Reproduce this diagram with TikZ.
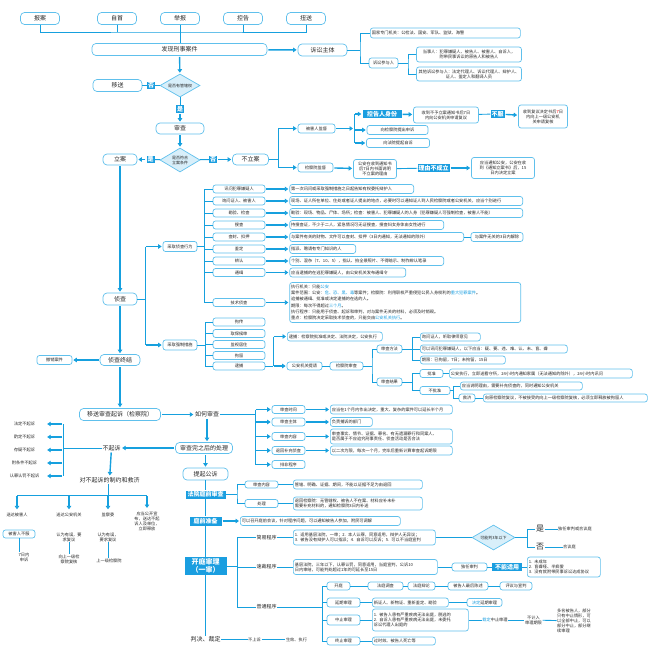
\documentclass[tikz,border=0pt]{standalone}
\usepackage{fontspec}
\usepackage{xcolor}
\newfontfamily\cjk{Noto Sans CJK SC}
\usetikzlibrary{arrows.meta,shapes.geometric,calc}
\definecolor{bline}{RGB}{96,192,236}
\definecolor{aline}{RGB}{22,160,222}
\definecolor{hblue}{RGB}{26,158,224}
\definecolor{dfill}{RGB}{216,239,250}
\tikzset{
  box/.style={draw=bline,line width=0.7pt,rounded corners=2.5pt,fill=white,inner sep=1pt,
    text=black!85,font=\cjk\fontsize{4.2}{5}\selectfont,minimum height=8pt},
  bigbox/.style={box,rounded corners=4pt,font=\cjk\fontsize{6}{7}\selectfont,minimum height=12pt},
  desc/.style={box,anchor=west,align=left,inner xsep=1.5pt},
  hl/.style={fill=hblue,text=white,inner sep=1pt,font=\cjk\bfseries\fontsize{6}{7}\selectfont},
  txt/.style={inner sep=0.5pt,text=black!85,font=\cjk\fontsize{4.2}{5}\selectfont,align=center},
  dia/.style={diamond,aspect=1.7,draw=bline,fill=dfill,line width=0.7pt,inner sep=0pt,
    text=black!85,font=\cjk\fontsize{4}{5}\selectfont,align=center},
  ln/.style={draw=aline,line width=0.9pt},
  arr/.style={draw=aline,line width=1.4pt,-{Triangle[length=3.5pt,width=4.5pt]},shorten <=1pt,shorten >=1pt}
}
\begin{document}
\begin{tikzpicture}[x=1pt,y=-1pt]
\useasboundingbox (0,0) rectangle (650,650);

\node[bigbox,minimum width=39] (baoan) at (40,18.5) {报案};
\node[bigbox,minimum width=39] (zishou) at (117,18.5) {自首};
\node[bigbox,minimum width=39] (jubao) at (180,18.5) {举报};
\node[bigbox,minimum width=39] (konggao) at (243,18.5) {控告};
\node[bigbox,minimum width=39] (niusong) at (306,18.5) {扭送};
\node[bigbox,minimum width=175] (faxian) at (179.5,49.5) {发现刑事案件};
\coordinate (top) at (180,32);
\draw[ln] (baoan.south) |- (top) -| (niusong.south);
\draw[ln] (zishou.south) -- (zishou.south |- top);
\draw[ln] (konggao.south) -- (konggao.south |- top);
\draw[ln] (jubao.south) -- (jubao.south |- faxian.north);

\node[bigbox,minimum width=49] (susong) at (322.5,50) {诉讼主体};
\draw[arr] (faxian) -- (susong);
\node[desc,text width=147pt,minimum height=10] (guojia) at (370,33) {国家专门机关：公检法、国安、军队、监狱、海警};
\node[box,minimum width=29,minimum height=10] (canyu) at (383.5,63) {诉讼参与人};
\node[box,text width=103pt,align=center,minimum height=15] (dangshi) at (469,54.5) {当事人：犯罪嫌疑人、被告人、被害人、自诉人，\\附带民事诉讼的原告人和被告人};
\node[box,text width=103pt,align=center,minimum height=14] (qita) at (469,74) {其他诉讼参与人：法定代理人、诉讼代理人、辩护人、\\证人、鉴定人和翻译人员};
\coordinate (sj) at (360,50);
\draw[ln] (susong) -- (sj);
\draw[ln] (guojia.west) -| (sj) |- (canyu.west);
\coordinate (pj1) at (408,63);
\draw[ln] (canyu) -- (pj1);
\draw[ln] (dangshi.west) -| (pj1) |- (qita.west);

\node[dia,minimum width=40,minimum height=23] (guanxia) at (180,85.5) {是否有管辖权};
\draw[arr] (faxian) -- (guanxia);
\node[hl] (fou1) at (151,85.5) {否};
\node[bigbox,minimum width=49] (yisong) at (117.5,85.5) {移送};
\draw[ln] (guanxia) -- (fou1);
\draw[ln] (fou1) -- (yisong);
\node[hl] (shi1) at (180,109) {是};
\draw[ln] (guanxia) -- (shi1);
\node[bigbox,minimum width=48,minimum height=11] (shencha) at (180,128.5) {审查};
\draw[arr] (shi1) -- (shencha);
\node[dia,minimum width=40,minimum height=24] (tiaojian) at (180,160) {是否符合\\立案条件};
\draw[arr] (shencha) -- (tiaojian);
\node[hl] (shi2) at (150.5,159.5) {是};
\node[bigbox,minimum width=34,minimum height=11] (lian) at (120,159.5) {立案};
\draw[ln] (tiaojian) -- (shi2);
\draw[arr] (shi2) -- (lian);
\node[hl] (fou2) at (213,159.5) {否};
\node[bigbox,minimum width=36,minimum height=11] (buli) at (250.5,159.5) {不立案};
\draw[ln] (tiaojian) -- (fou2);
\draw[arr] (fou2) -- (buli);

\coordinate (bj) at (278,159.5);
\draw[ln] (buli) -- (bj);
\node[box,minimum width=37,minimum height=9] (beihai) at (316.5,128.5) {被害人监督};
\node[box,minimum width=35,minimum height=9] (jianjian) at (315.5,167.5) {检察院监督};
\draw[ln] (beihai -| bj) -- (jianjian -| bj);
\draw[arr] (beihai -| bj) -- (beihai);
\draw[arr] (jianjian -| bj) -- (jianjian);

\coordinate (bh) at (354,128.5);
\draw[arr] (beihai) -- (bh);
\node[hl,minimum width=39,minimum height=8] (kgsf) at (382,114) {控告人身份};
\node[box,minimum width=61,minimum height=9] (sssu) at (397.5,130) {向检察院提出申诉};
\node[box,minimum width=63,minimum height=9] (zisu) at (398,143) {向法院提起自诉};
\draw[ln] (kgsf -| bh) -- (zisu -| bh);
\draw[arr] (kgsf -| bh) -- (kgsf);
\draw[arr] (sssu -| bh) -- (sssu);
\draw[arr] (zisu -| bh) -- (zisu);
\node[box,text width=63pt,align=center,minimum height=16] (fuyi) at (446,115) {收到不予立案通知书后7日\\内向公安机关申请复议};
\draw[arr] (kgsf) -- (fuyi);
\node[hl] (bufu) at (497.5,114) {不服};
\draw[ln] (fuyi) -- (bufu);
\node[box,text width=47pt,align=center,minimum height=23] (fuhe) at (543,116.5) {收到复议决定书后\textcolor{red}{7}日\\内向上一级公安机\\关申请复核};
\draw[arr] (bufu) -- (fuhe);

\node[box,text width=41pt,align=center,minimum height=19] (shuoming) at (375,169) {公安在收到通知书\\后7日内书面说明\\不立案的理由};
\draw[arr] (jianjian) -- (shuoming);
\node[hl] (bucheng) at (433.5,168) {理由不成立};
\draw[ln] (shuoming) -- (bucheng);
\node[box,text width=61pt,align=center,minimum height=21] (tongzhi) at (503,168) {应当通知公安，公安在收\\到《通知立案书》后，15\\日内决定立案};
\draw[arr] (bucheng) -- (tongzhi);

\node[bigbox,minimum width=34] (zhencha) at (120,299) {侦查};
\draw[arr] (lian) -- (zhencha);
\coordinate (zj) at (145,299);
\draw[ln] (zhencha) -- (zj);
\node[box,minimum width=34,minimum height=10] (xingwei) at (180,246.5) {采取侦查行为};
\node[box,minimum width=34,minimum height=10] (cuoshi) at (180,345) {采取强制措施};
\draw[ln] (xingwei -| zj) -- (cuoshi -| zj);
\draw[arr] (xingwei -| zj) -- (xingwei);
\draw[arr] (cuoshi -| zj) -- (cuoshi);

\coordinate (xj) at (204,246.5);
\draw[ln] (xingwei) -- (xj);
\foreach \i/\y/\t in {1/189/讯问犯罪嫌疑人,2/201/询问证人、被害人,3/213/勘验、检查,4/225/搜查,5/237/查封、扣押,6/249/鉴定,7/261/辨认,8/272.5/通缉,9/302.5/技术侦查}{
  \node[box,minimum width=52,minimum height=8] (xw\i) at (239,\y) {\t};
  \draw[ln] (xw\i.west -| xj) -- (xw\i);
}
\draw[ln] (xw1.west -| xj) -- (xw9.west -| xj);
\foreach \i/\w/\t in {1/121/{第一次讯问或采取强制措施之日起告知有权委托辩护人},
  2/230/{现场、证人所在单位、住处或者证人提出的地点，必要时可以通知证人到人民检察院或者公安机关，应当个别进行},
  3/230/{勘验：现场、物品、尸体、场所；检查：被害人、犯罪嫌疑人的人身（犯罪嫌疑人可强制检查，被害人不能）},
  4/151/{持搜查证，不少于二人，紧急情况可无证搜查，搜查妇女身体由女性进行},
  5/171/{与案件有关的财物、文件可以查封、扣押（3日内通知，无法通知的除外）},
  6/63/{指派、聘请有专门知识的人},
  7/151/{个别、混杂（7、10、5），指认、拍全景照片、不得暗示、制作辨认笔录},
  8/113/{应当逮捕的在逃犯罪嫌疑人，由公安机关发布通缉令}}{
  \node[desc,text width=\w pt,minimum height=9] (xd\i) at ([xshift=24pt]xw\i.east) {\t};
  \draw[arr] (xw\i) -- (xd\i);
}
\node[box,minimum width=52,minimum height=9] (jiechu) at (497,237) {与案件无关的3日内解除};
\draw[ln] (xd5) -- (jiechu);
\node[desc,text width=228pt,minimum height=40,font=\cjk\fontsize{4.2}{6.2}\selectfont] (xd9) at ([xshift=24pt]xw9.east) {执行机关：只能\textcolor{hblue}{公安}\\案件范围：公安：\textcolor{hblue}{危、恐、黑、毒}等案件；检察院：利用职权严重侵犯公民人身权利的\textcolor{hblue}{重大犯罪案件}。\\追捕被通缉、批准或决定逮捕的在逃的人。\\期限：每次不得超过\textcolor{hblue}{三个月}。\\执行程序：只能用于侦查、起诉和审判，对与案件无关的材料，必须及时销毁。\\重点：检察院决定采取技术侦查的，只能交由\textcolor{hblue}{公安机关执行}。};
\draw[arr] (xw9) -- (xd9);

\coordinate (cj) at (205,345);
\draw[ln] (cuoshi) -- (cj);
\foreach \i/\y/\t in {1/322/拘传,2/333.5/取保候审,3/344.5/监视居住,4/355.5/拘留,5/366/逮捕}{
  \node[box,minimum width=52,minimum height=8] (qz\i) at (239,\y) {\t};
  \draw[ln] (qz\i.west -| cj) -- (qz\i);
}
\draw[ln] (qz1.west -| cj) -- (qz5.west -| cj);

\coordinate (dj) at (273,366);
\draw[ln] (qz5) -- (dj);
\node[desc,text width=92pt,minimum height=9] (jueding) at (287,336.5) {逮捕：检察院批准或决定、法院决定，公安执行};
\node[box,minimum width=35,minimum height=8] (tiqing) at (304.5,366) {公安机关提请};
\draw[ln] (jueding -| dj) -- (dj);
\draw[arr] (jueding -| dj) -- (jueding);
\draw[arr] (dj) -- (tiqing);
\node[box,minimum width=33,minimum height=8] (shenzha) at (346.5,366) {检察院审查};
\draw[ln] (tiqing) -- (shenzha);
\coordinate (sj3) at (372,366);
\draw[ln] (shenzha) -- (sj3);
\node[box,minimum width=25,minimum height=8] (fangfa) at (389.5,349) {审查方法};
\node[box,minimum width=25,minimum height=8] (jieguo) at (389.5,382) {审查结果};
\draw[ln] (fangfa.west) -| (sj3) |- (jieguo.west);

\coordinate (fj) at (412,349);
\draw[ln] (fangfa) -- (fj);
\node[desc,text width=57pt,minimum height=8] (ff1) at (420,337) {询问证人，听取律师意见};
\node[desc,text width=144pt,minimum height=8] (ff2) at (420,349) {可以讯问犯罪嫌疑人，以下应当：疑、要、违、难、认、未、盲、聋};
\node[desc,text width=82pt,minimum height=8] (ff3) at (420,360) {期限：已拘留，7日；未拘留，15日};
\draw[ln] (ff1.west -| fj) -- (ff3.west -| fj);
\foreach \n in {ff1,ff2,ff3} \draw[ln] (\n.west -| fj) -- (\n);

\coordinate (gj) at (412,382);
\draw[ln] (jieguo) -- (gj);
\node[box,minimum width=23,minimum height=8] (pizhun) at (431.5,373.5) {批准};
\node[box,minimum width=30,minimum height=8] (bupi) at (435,390.5) {不批准};
\draw[ln] (pizhun.west -| gj) -- (bupi.west -| gj);
\draw[ln] (pizhun.west -| gj) -- (pizhun);
\draw[ln] (bupi.west -| gj) -- (bupi);
\node[desc,text width=180pt,minimum height=9] (pzd) at (449,373.5) {公安执行，立即送看守所，24小时内通知家属（无法通知的除外），24小时内讯问};
\draw[ln] (pizhun) -- (pzd);
\coordinate (bj2) at (453,390.5);
\draw[ln] (bupi) -- (bj2);
\node[desc,text width=119pt,minimum height=8] (bp1) at (460,386) {应当说明理由，需要补充侦查的，同时通知公安机关};
\node[box,minimum width=16,minimum height=8] (jiuji) at (467,398) {救济};
\draw[ln] (bp1.west -| bj2) -- (jiuji.west -| bj2);
\draw[ln] (bp1.west -| bj2) -- (bp1);
\draw[ln] (jiuji.west -| bj2) -- (jiuji);
\node[desc,text width=161pt,minimum height=8] (jjd) at (483,398) {向原检察院复议，不被接受的向上一级检察院复核，必须立即释放被拘留人};
\draw[ln] (jiuji) -- (jjd);

\node[bigbox,minimum width=40,minimum height=11] (zhongjie) at (120,360) {侦查终结};
\draw[arr] (zhencha) -- (zhongjie);
\node[box,minimum width=35,minimum height=9] (chexiao) at (54.5,360) {撤销案件};
\draw[arr] (zhongjie) -- (chexiao);
\node[bigbox,minimum width=81,minimum height=12] (yisongqs) at (120,414.5) {移送审查起诉（检察院）};
\draw[arr] (zhongjie) -- (yisongqs);
\node[txt,font=\cjk\fontsize{6}{7}\selectfont] (ruhe) at (207,414.5) {如何审查};
\draw[arr] (yisongqs) -- (ruhe);
\coordinate (rj) at (255,414.5);
\draw[ln] (ruhe) -- (rj);
\foreach \i/\y/\t in {1/409.5/审查时间,2/422/审查主体,3/436.5/审查内容,4/450.5/退回补充侦查,5/464.5/排非程序}{
  \node[box,minimum width=33,minimum height=8] (sc\i) at (288.5,\y) {\t};
  \draw[arr] (sc\i.west -| rj) -- (sc\i);
}
\draw[ln] (sc1.west -| rj) -- (sc5.west -| rj);
\node[desc,text width=119pt,minimum height=9] (scd1) at (330,409.5) {应当在1个月内作出决定，重大、复杂的案件可以延长半个月};
\node[desc,text width=39pt,minimum height=9] (scd2) at (330,422) {负责捕诉的部门};
\node[desc,text width=119pt,minimum height=15] (scd3) at (330,436.5) {审查事实、情节、证据、罪名、有无遗漏罪行和同案人、\\是否属于不应追究刑事责任、侦查活动是否合法};
\node[desc,text width=119pt,minimum height=9] (scd4) at (330,450.5) {以二次为限，每次一个月，完毕后重新计算审查起诉期限};
\foreach \i in {1,...,4} \draw[arr] (sc\i) -- (scd\i);

\node[bigbox,minimum width=57,minimum height=11] (chuli) at (204,448) {审查完之后的处理};
\draw[arr] (ruhe) -- (ruhe |- chuli.north);
\node[txt,font=\cjk\fontsize{6}{7}\selectfont] (buqisu) at (111.5,448) {不起诉};
\draw[arr] (chuli) -- (buqisu);
\coordinate (qj) at (63,448);
\draw[ln] (buqisu) -- (qj);
\foreach \i/\y/\t in {1/424/法定不起诉,2/437/酌定不起诉,3/450/存疑不起诉,4/463/附条件不起诉,5/476/认罪认罚不起诉}{
  \node[txt,minimum width=31] (bq\i) at (24.5,\y) {\t};
  \draw[arr,shorten >=7pt] (bq\i -| qj) -- (bq\i);
}
\draw[ln] (bq1 -| qj) -- (bq5 -| qj);

\node[txt,font=\cjk\fontsize{6}{7}\selectfont] (zhiyue) at (109.5,480) {对不起诉的制约和救济};
\draw[arr] (buqisu) -- (zhiyue);
\coordinate (yj) at (108,495);
\draw[ln] (yj |- zhiyue.south) -- (yj);
\node[txt] (sd1) at (17,515) {送达被害人};
\node[txt] (sd2) at (69,515) {送达公安机关};
\node[txt] (sd3) at (108,515) {监察委};
\node[txt,anchor=north] (sd4) at (147,511) {应当公开宣\\布，送达不起\\诉人及单位，\\立即释放};
\draw[ln] (sd1 |- yj) -- (sd4 |- yj);
\foreach \n in {sd1,sd2,sd3,sd4} \draw[arr,shorten >=3pt] (\n |- yj) -- (\n.north);
\node[box,minimum width=32,minimum height=8] (bhbf) at (19,534) {被害人不服};
\node[txt] (ss1) at (24,557) {7日内\\申诉};
\draw[ln] (bhbf.south) -- (bhbf.south |- ss1.north);
\node[txt] (yw2) at (69,537) {认为有误，要\\求复议};
\node[txt] (fh2) at (69,559) {向上一级检\\察院复核};
\draw[ln] (yw2) -- (fh2);
\node[txt] (yw3) at (108,537) {认为有误，\\要求复议};
\node[txt] (fh3) at (109,561) {上一级检察院};
\draw[ln] (yw3) -- (yw3 |- fh3.north);

\node[bigbox,minimum width=45,minimum height=12] (gongsu) at (205.5,474) {提起公诉};
\draw[arr] (gongsu |- chuli.south) -- (gongsu);
\node[hl,minimum width=40,minimum height=8] (tingqian) at (205.5,494.5) {法院庭前审查};
\node[hl,minimum width=32,minimum height=9] (zhunbei) at (205.5,521) {庭前准备};
\node[hl,minimum width=42,minimum height=18,align=center,font=\cjk\bfseries\fontsize{7}{8.5}\selectfont] (kaiting) at (205.5,566) {开庭审理\\（一审）};
\node[txt,font=\cjk\fontsize{6}{7}\selectfont] (panjue) at (205.5,639.5) {判决、裁定};
\draw[ln] (gongsu) -- (tingqian) -- (zhunbei) -- (kaiting) -- (panjue);
\node[txt] (bss) at (254.5,639.5) {不上诉};
\node[txt] (sx) at (296.5,639.5) {生效、执行};
\draw[ln] (panjue) -- (bss);
\draw[ln] (bss) -- (sx);

\coordinate (tj) at (237,494.5);
\draw[ln] (tingqian) -- (tj);
\node[box,minimum width=33,minimum height=7] (scnr) at (261.5,484.5) {审查内容};
\node[box,minimum width=33,minimum height=8] (chuli2) at (261.5,503.5) {处理};
\draw[ln] (scnr.west) -| (tj) |- (chuli2.west);
\node[desc,text width=126pt,minimum height=9] (scnrd) at (293,484.5) {管辖、明确、证据、期间，不能以证据不足为由退回};
\node[desc,text width=126pt,minimum height=13] (chulid) at (293,503.5) {退回检察院：无管辖权、被告人不在案、材料应补未补\\需要补充材料的，通知检察院3日内补送};
\draw[ln] (scnr) -- (scnrd);
\draw[ln] (chuli2) -- (chulid);
\node[desc,text width=157pt,minimum height=9] (zhunbeid) at (240,521) {可以召开庭前会议，针对程序问题，可以通知被告人参加，附民可调解};
\draw[arr] (zhunbei) -- (zhunbeid);

\coordinate (kj) at (237,566);
\draw[ln] (kaiting) -- (kj);
\node[txt,font=\cjk\fontsize{5}{6}\selectfont] (jianyi) at (266.5,537.5) {简易程序};
\node[txt,font=\cjk\fontsize{5}{6}\selectfont] (sucai) at (266.5,567) {速裁程序};
\node[txt,font=\cjk\fontsize{5}{6}\selectfont] (putong) at (266.5,607) {普通程序};
\draw[ln] (jianyi.west -| kj) -- (putong.west -| kj);
\foreach \n in {jianyi,sucai,putong} \draw[ln] (\n.west -| kj) -- (\n);

\node[desc,text width=139pt,minimum height=15] (jianyid) at (293,537.5) {1. 适用基层法院，一审；2. 本人认罪，同意适用，辩护人无异议；\\3. 被告没有辩护人可以指派；4. 自诉可以反诉；5. 可以不当庭宣判};
\draw[ln] (jianyi) -- (jianyid);
\node[dia,minimum width=43,minimum height=25] (sannian) at (493.5,537.5) {可能判3年以下};
\draw[ln] (jianyid) -- (sannian);
\coordinate (nj) at (527,537.5);
\draw[ln] (sannian) -- (nj);
\node[txt,font=\cjk\fontsize{8}{9}\selectfont] (shi3) at (540,529) {是};
\node[txt,font=\cjk\fontsize{8}{9}\selectfont] (fou3) at (540,547) {否};
\draw[ln] (shi3.west -| nj) -- (fou3.west -| nj);
\draw[ln] (shi3.west -| nj) -- (shi3);
\draw[ln] (fou3.west -| nj) -- (fou3);
\node[txt] (duren) at (575,529) {独任审判或合议庭};
\node[txt] (heyi) at (569.5,547) {合议庭};
\draw[ln] (shi3) -- (duren);
\draw[ln] (fou3) -- (heyi);

\node[desc,text width=141pt,minimum height=15] (sucaid) at (293,567) {基层法院，三年以下，认罪认罚，同意适用，当庭宣判，公诉10\\日内审结，可能判处超过1年的可延长至15日};
\draw[ln] (sucai) -- (sucaid);
\node[box,minimum width=35,minimum height=8] (duren2) at (469.5,567) {独任审判};
\draw[ln] (sucaid) -- (duren2);
\node[hl,minimum width=30,minimum height=8] (bnsy) at (507,567) {不能适用};
\draw[ln] (duren2) -- (bnsy);
\node[desc,text width=70pt,minimum height=20] (bnsyd) at (527,567) {1. 未成年\\2. 盲聋哑、半疯傻\\3. 没有就附带民事诉讼达成协议};
\draw[ln] (bnsy) -- (bnsyd);

\coordinate (pj) at (322,607);
\draw[ln] (putong) -- (pj);
\node[box,minimum width=23,minimum height=8] (kt) at (338.5,586) {开庭};
\node[box,minimum width=35,minimum height=8] (dc) at (385.5,586) {法庭调查};
\node[box,minimum width=27,minimum height=8] (bl) at (421.5,586) {法庭辩论};
\node[box,minimum width=40,minimum height=8] (zh) at (468,586) {被告人最后陈述};
\node[box,minimum width=32,minimum height=8] (py) at (516,586) {评议与宣判};
\draw[ln] (kt) -- (dc) -- (bl) -- (zh) -- (py);
\node[box,minimum width=33,minimum height=9] (yq) at (343.5,602.5) {延期审理};
\node[box,minimum width=33,minimum height=10] (zz) at (343.5,620) {中止审理};
\node[box,minimum width=33,minimum height=8] (zhz) at (343.5,641) {终止审理};
\draw[ln] (kt.west -| pj) -- (zhz.west -| pj);
\foreach \n in {kt,yq,zz,zhz} \draw[ln] (\n.west -| pj) -- (\n);
\node[desc,text width=73pt,minimum height=9] (yqd) at (372,602.5) {新证人、新物证、重新鉴定、勘验};
\draw[ln] (yq) -- (yqd);
\node[box,minimum width=35,minimum height=8] (jdyq) at (484.5,602.5) {\textcolor{hblue}{决定}延期审理};
\draw[ln] (yqd) -- (jdyq);
\node[desc,text width=93pt,minimum height=22] (zzd) at (372,620) {1. 被告人患有严重疾病无法出庭，脱逃的\\2. 自诉人患有严重疾病无法出庭，未委托\\诉讼代理人出庭的};
\draw[ln] (zz) -- (zzd);
\node[txt] (czz) at (495,620) {\textcolor{hblue}{裁定}中止审理};
\draw[ln] (zzd) -- (czz);
\node[txt] (bjr) at (533.5,620) {不计入\\审理期限};
\draw[ln] (czz) -- (bjr);
\node[txt,align=left] (duoming) at (574,621) {多名被告人，部分\\只有中止情形，可\\以全部中止，可以\\部分中止，部分继\\续审理};
\draw[ln] (bjr) -- (duoming);
\node[desc,text width=60pt,minimum height=8] (zhzd) at (372,641) {过时效、被告人死亡等};
\draw[ln] (zhz) -- (zhzd);
\end{tikzpicture}
\end{document}
